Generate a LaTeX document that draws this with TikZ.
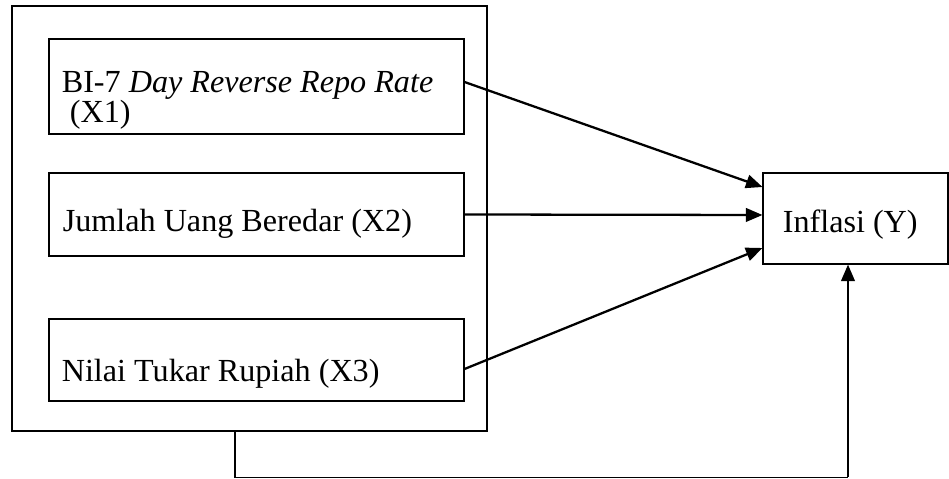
\documentclass[tikz,border=0pt]{standalone}
\usepackage{fontspec}
\setmainfont{Liberation Serif}
\usetikzlibrary{arrows.meta}
\begin{document}
\begin{tikzpicture}[
        box/.style={draw, line width=0.6pt, inner sep=0pt},
        varbox/.style={box, minimum width=8.3cm},
        label/.style={anchor=base west, inner sep=0pt, font=\fontsize{18.3}{17}\selectfont, align=left},
        effect/.style={line width=1.3pt, -{Triangle[length=0.33cm, width=0.27cm]}}
    ]
        \useasboundingbox (0,0) rectangle (18.98,9.58);

        % Independent variables
        \node[box, minimum width=9.5cm, minimum height=8.5cm] (group) at (4.99,5.21) {};
        \node[varbox, minimum height=1.9cm] (x1) at (5.13,7.85) {};
        \node[varbox, minimum height=1.66cm] (x2) at (5.13,5.29) {};
        \node[varbox, minimum height=1.64cm] (x3) at (5.13,2.38) {};

        \node[label] (x1text) at ([shift={(0.26,0.24)}]x1.south west) {BI-7 \textit{Day Reverse Repo Rate}\\\hspace{0.25em}(X1)};
        \node[label] (x2text) at ([shift={(0.28,0.5)}]x2.south west) {Jumlah Uang Beredar (X2)};
        \node[label] (x3text) at ([shift={(0.26,0.4)}]x3.south west) {Nilai Tukar Rupiah (X3)};

        % Dependent variable
        \node[box, minimum width=3.7cm, minimum height=1.82cm] (y) at (17.11,5.21) {};
        \node[label] (ytext) at ([shift={(0.4,0.64)}]y.south west) {Inflasi (Y)};

        % Partial effects
        \draw[effect] ([yshift=0.09cm]x1.east) -- ([yshift=0.63cm]y.west);
        \draw[effect] (x2.east) -- ([yshift=0.07cm]y.west);
        \draw[effect] ([yshift=-0.18cm]x3.east) -- ([yshift=-0.59cm]y.west);

        % Simultaneous effect
        \coordinate (corner) at ([xshift=-0.15cm]y.south |- 0,0.03);
        \draw[line width=0.6pt] ([xshift=-0.29cm]group.south) |- (corner);
        \draw[effect] (corner) -- ([xshift=-0.15cm]y.south);
    \end{tikzpicture}
\end{document}
